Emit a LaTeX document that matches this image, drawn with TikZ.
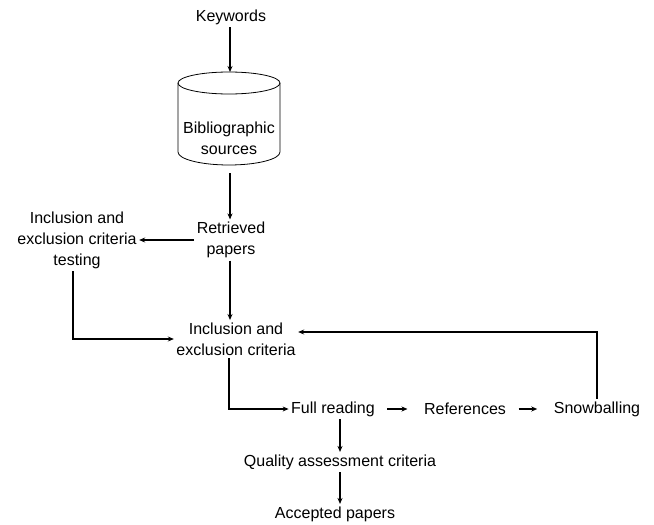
\documentclass[tikz,border=0pt]{standalone}
\usepackage{fontspec}
\setmainfont{Liberation Sans}
\usetikzlibrary{arrows.meta}

\begin{document}
\begin{tikzpicture}
[x=1pt, y=-1pt, line width=1.2pt, >={Stealth[length=6pt,width=5pt]},
 every node/.style={align=center, inner sep=2pt, font=\fontsize{16}{21}\selectfont}]
\useasboundingbox (0,0) rectangle (654,525);
\node (kw) at (231,17) {Keywords};

% database cylinder
\draw[line width=0.8pt] (178,83) -- (178,152) arc[start angle=180, end angle=0, x radius=51, y radius=13] -- (280,83);
\draw[line width=0.8pt] (229,83) ellipse [x radius=51, y radius=11];
\coordinate (bibtop) at (230,72);
\coordinate (bibbot) at (230,165);
\node (bib) at (229,138) {Bibliographic\\sources};

\node (ret) at (231,240) {Retrieved\\papers};
\node (test) at (77,240) {Inclusion and\\exclusion criteria\\testing};
\node (incl) at (236,339) {Inclusion and\\exclusion criteria};
\node (full) at (333,409) {Full reading};
\node (refs) at (465,409) {References};
\node (snow) at (597,409) {Snowballing};
\node (qual) at (340,462) {Quality assessment criteria};
\node (acc) at (335,514) {Accepted papers};

\draw[->] (kw.south -| bibtop) -- (bibtop);
\draw[->, shorten <=8pt] (bibbot) -- (bibbot |- ret.north);
\draw[->] (ret) -- (test);
\draw[->] (ret.south -| bibtop) -- (bibtop |- incl.north);
\draw[->] (qual.north |- full.south) -- (qual.north);
\draw[->] (qual.south) -- (qual.south |- acc.north);
\foreach \from/\to in {full/refs,refs/snow}
	\draw[->, shorten <=10pt, shorten >=14pt] (\from) -- (\to);

\draw[->] ([xshift=-4pt]test.south) |- (incl.west);
\draw[->] ([xshift=-7pt]incl.south) |- (full.west);
\draw[->] (snow.north) |- ([yshift=7pt]incl.east);

\end{tikzpicture}
\end{document}
